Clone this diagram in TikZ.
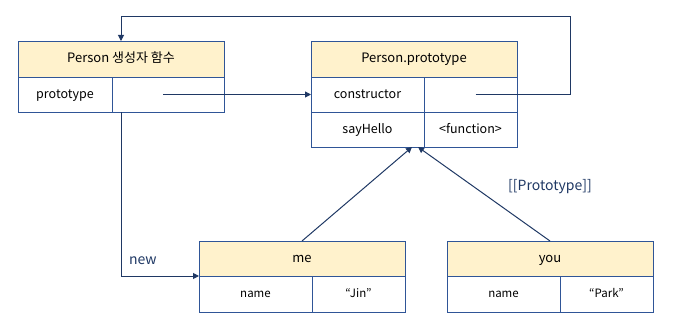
\documentclass[tikz,border=0pt]{standalone}
\usepackage{fontspec}
\setmainfont{Noto Sans CJK KR}
\usetikzlibrary{arrows.meta, positioning}
\definecolor{boxline}{HTML}{2F5597}
\definecolor{arrowline}{HTML}{1F3864}
\definecolor{headfill}{HTML}{FFF2CC}

\begin{document}
\begin{tikzpicture}[
  x=1pt, y=-1pt,
  head/.style={rectangle, draw=boxline, fill=headfill, minimum width=206pt,
    minimum height=36pt, inner sep=0pt, outer sep=0pt, anchor=north west,
    text height=0.84em, text depth=0.1em, font=\fontsize{13}{15}\selectfont},
  cell/.style={rectangle, draw=boxline, minimum height=35pt, inner sep=0pt,
    outer sep=0pt, anchor=north west, text height=0.84em, text depth=0.1em,
    font=\fontsize{12.5}{15}\selectfont},
  keycell/.style={cell, minimum width=113pt},
  valcell/.style={cell, minimum width=93pt},
  small/.style={minimum height=36pt, font=\fontsize{11.5}{14}\selectfont},
  link/.style={-{Triangle[length=6pt, width=6pt]}, draw=arrowline, line width=1pt},
  lbl/.style={text=arrowline, font=\fontsize{14}{16}\selectfont}
]
\useasboundingbox (0,0) rectangle (680,329);

% constructor function
\node[head] (phead) at (18,41) {Person 생성자 함수};
\node[cell, minimum width=94pt] (pkey) at (phead.south west) {prototype};
\node[cell, minimum width=112pt] (pval) at (pkey.north east) {};

% prototype object
\node[head] (protohead) at (311,41) {Person.prototype};
\node[keycell] (ckey) at (protohead.south west) {constructor};
\node[valcell] (cval) at (ckey.north east) {};
\node[keycell] (skey) at (ckey.south west) {sayHello};
\node[valcell] (sval) at (skey.north east) {<function>};

% instances
\node[head, minimum height=35pt] (mehead) at (199,241) {me};
\node[keycell, small] (mekey) at (mehead.south west) {name};
\node[valcell, small] (meval) at (mekey.north east) {“Jin”};

\node[head, minimum height=35pt] (youhead) at (447,241) {you};
\node[keycell, small] (youkey) at (youhead.south west) {name};
\node[valcell, small] (youval) at (youkey.north east) {“Park”};

\coordinate (loopcorner) at (570,17);
\node[lbl] (protolbl) at (550,187) {[[Prototype]]};

% links
\draw[link] ([xshift=-5pt]pval.center) -- (pval.center -| ckey.west);
\draw[link] ([xshift=5pt]cval.center) -| (loopcorner) -| (phead.north);
\draw[link] (phead.center |- pval.south) |- (mehead.south west)
  node[lbl, pos=0.64, above=7pt] (newlbl) {new};
\draw[link] (mehead.north) -- ([xshift=-12pt]skey.south east);
\draw[link] (youhead.north) -- ([xshift=-6pt]skey.south east);
\end{tikzpicture}
\end{document}
